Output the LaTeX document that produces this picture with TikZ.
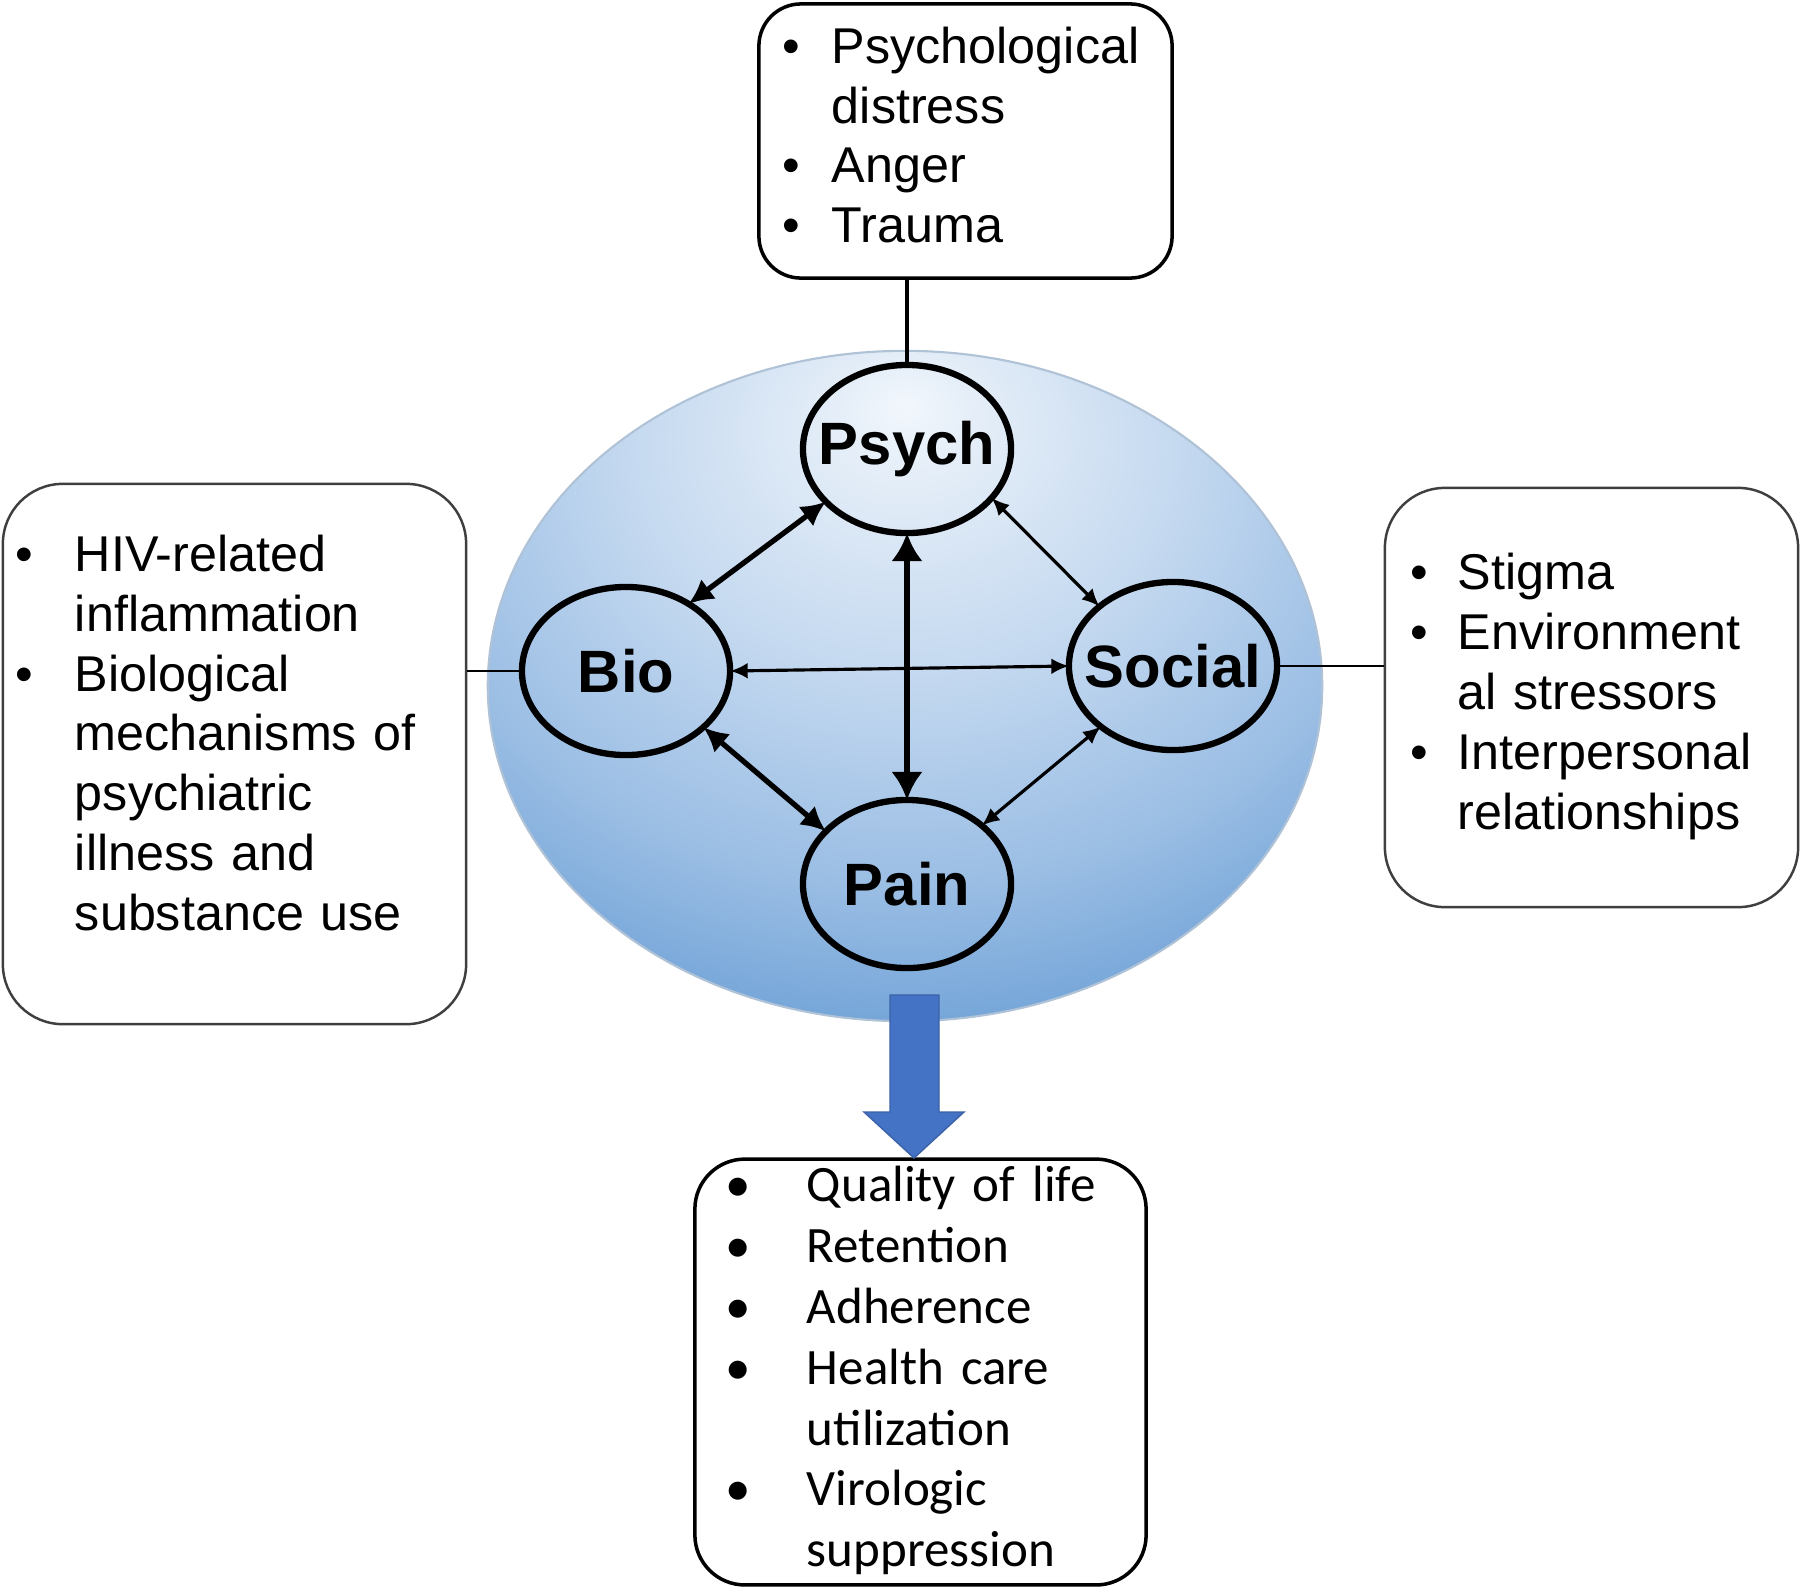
\documentclass[tikz,border=0pt]{standalone}
\usepackage{fontspec}
\setmainfont{Liberation Sans}
\newfontfamily\calibri{Carlito}
\usetikzlibrary{shapes.geometric, arrows.meta, calc}
\setlength{\parindent}{0pt}
\definecolor{ring0}{HTML}{F2F7FC}
\definecolor{ring1}{HTML}{E8F0F9}
\definecolor{ring2}{HTML}{C3D8EF}
\definecolor{ring3}{HTML}{AFCBEA}
\definecolor{ring4}{HTML}{9BBEE4}
\definecolor{ring5}{HTML}{76A6D9}
\definecolor{ring6}{HTML}{70A0D7}
\definecolor{ringedge}{HTML}{B0C2D6}
\definecolor{arrowblue}{HTML}{4472C4}
\definecolor{arrowedge}{HTML}{3A62A8}
\definecolor{boxgray}{HTML}{3F3F3F}
\pgfdeclareradialshading{ringshade}{\pgfpoint{0bp}{21bp}}{color(0bp)=(ring0); color(3bp)=(ring1); color(17bp)=(ring2); color(23bp)=(ring3); color(29.5bp)=(ring4); color(38bp)=(ring5); color(100bp)=(ring6)}
\tikzset{
  ring/.style={ellipse, shading=ringshade, draw=ringedge, line width=0.6pt,
    minimum width=8.34cm, minimum height=6.7cm, inner sep=0pt},
  factortext/.style={font=\fontsize{17}{20}\selectfont\bfseries, inner sep=0pt},
  factor/.style={ellipse, draw, line width=1.8pt, minimum width=2.08cm,
    minimum height=1.68cm, inner sep=0pt, outer sep=0pt,
    label={[factortext]center:#1}},
  listbox/.style={draw, line width=1pt, align=left, inner ysep=0pt,
    font=\fontsize{14.3}{17}\selectfont},
  sidebox/.style={listbox, draw=boxgray, line width=0.7pt, rounded corners=0.6cm},
  twoway/.style={{Latex[length=7pt,width=7pt]}-{Latex[length=7pt,width=7pt]}, line width=1.5pt},
  bigway/.style={{Latex[length=8pt,width=9pt]}-{Latex[length=8pt,width=9pt]}, line width=1.9pt},
  thinway/.style={{Latex[length=5pt,width=4.5pt]}-{Latex[length=5pt,width=4.5pt]}, line width=0.9pt},
  bigarrow/.style={fill=arrowblue, draw=arrowedge, line width=0.4pt},
}
\begin{document}
\begin{tikzpicture}[x=0.01cm, y=-0.01cm]
    \useasboundingbox (0,0) rectangle (1800,1590);
    \node[ring] (ring) at (905,686) {};
    \node[factor=Psych] (psych) at (907,449) {};
    \node[factor=Bio] (bio) at (626,671) {};
    \node[factor=Social] (social) at (1173,666) {};
    \node[factor=Pain] (pain) at (907,884) {};
    \node[listbox, rounded corners=0.42cm, text width=3.65cm, inner xsep=0.24cm,
        minimum height=2.74cm] (psychbox) at (965.5,141) {%
        \begin{tabular}{@{}p{0.49cm}@{}l@{}}
        \textbullet & Psychological\\
        & distress\\
        \textbullet & Anger\\
        \textbullet & Trauma
        \end{tabular}};
    \node[sidebox, text width=4.37cm, inner xsep=0.13cm,
        minimum height=5.4cm] (biobox) at (234.5,754) {%
        \begin{tabular}{@{}p{0.59cm}@{}l@{}}
        \textbullet & HIV-related\\
        & inflammation\\
        \textbullet & Biological\\
        & mechanisms of\\
        & psychiatric\\
        & illness and\\
        & substance use\\[0.3cm]
        \end{tabular}};
    \node[sidebox, text width=3.61cm, inner xsep=0.26cm,
        minimum height=4.19cm] (socialbox) at (1591.5,697.5) {%
        \begin{tabular}{@{}p{0.47cm}@{}l@{}}
        \textbullet & Stigma\\
        \textbullet & Environment\\
        & al stressors\\
        \textbullet & Interpersonal\\
        & relationships
        \end{tabular}};
    \node[listbox, rounded corners=0.5cm, text width=3.89cm, inner xsep=0.31cm,
        minimum height=4.24cm, font=\calibri\fontsize{14.5}{17.3}\selectfont] (outbox) at (920.5,1372) {%
        \begin{tabular}{@{}p{0.81cm}@{}l@{}}
        \textbullet & Quality of life\\
        \textbullet & Retention\\
        \textbullet & Adherence\\
        \textbullet & Health care\\
        & utilization\\
        \textbullet & Virologic\\
        & suppression
        \end{tabular}};
    \draw[line width=1pt] (psych.north |- psychbox.south) -- (psych.north);
    \draw[line width=0.6pt] (biobox.east |- bio.west) -- (bio.west);
    \draw[line width=0.6pt] (social.east) -- (social.east -| socialbox.west);
    \draw[twoway] (bio.47) -- (psych.213);
    \draw[thinway] (psych.330) -- (social.141);
    \draw[bigway] (psych.south) -- (pain.north);
    \draw[thinway] (bio.east) -- (social.west);
    \draw[twoway] (bio.324) -- (pain.147);
    \draw[thinway] (social.220) -- (pain.38);
    \coordinate (tip) at (914,1158);
    \filldraw[bigarrow] (tip) -- ++(-50,-46) -- ++(26,0) -- ++(0,-117) -- ++(49,0)
        -- ++(0,117) -- ++(25,0) -- cycle;
\end{tikzpicture}
\end{document}
